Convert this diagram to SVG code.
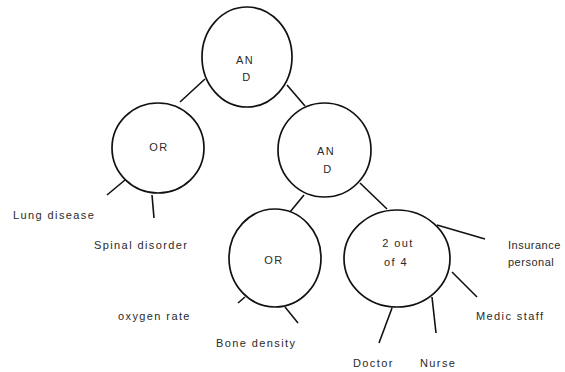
<svg xmlns="http://www.w3.org/2000/svg" width="565" height="372" viewBox="0 0 565 372">
<style>
.n{fill:#fff;stroke:#111;stroke-width:1.7}
.c line{stroke:#111;stroke-width:1.6}
text{font-family:"Liberation Sans",Arial,sans-serif;font-size:11px;letter-spacing:1.4px;fill:#2a2a2a}
.m{text-anchor:middle}
.t{letter-spacing:0.5px}
</style>
<rect width="565" height="372" fill="#fff"/>
<g class="c" id="connectors">
<line x1="180" y1="102" x2="205" y2="79"/>
<line x1="287" y1="85" x2="305" y2="106"/>
<line x1="290" y1="212" x2="304" y2="195"/>
<line x1="360" y1="183" x2="387" y2="209"/>
<line x1="107" y1="195" x2="125" y2="180"/>
<line x1="152" y1="195" x2="154" y2="218"/>
<line x1="238" y1="303" x2="245" y2="297"/>
<line x1="285" y1="307" x2="298" y2="323"/>
<line x1="437" y1="225" x2="485" y2="239"/>
<line x1="452" y1="272" x2="477" y2="297"/>
<line x1="392" y1="308" x2="379" y2="343"/>
<line x1="432" y1="297" x2="436" y2="333"/>
</g>
<g id="and-top">
<ellipse class="n" cx="247" cy="57" rx="45" ry="50"/>
<text class="m" x="245" y="64">AN</text>
<text class="m" x="247" y="81">D</text>
</g>
<g id="or-left">
<ellipse class="n" cx="158" cy="148" rx="46" ry="45"/>
<text class="m" x="159" y="151">OR</text>
</g>
<g id="and-right">
<ellipse class="n" cx="324.5" cy="150" rx="46.5" ry="47"/>
<text class="m" x="326" y="155">AN</text>
<text class="m" x="328" y="173">D</text>
</g>
<g id="or-bottom">
<ellipse class="n" cx="275" cy="258" rx="46" ry="49"/>
<text class="m" x="274" y="264">OR</text>
</g>
<g id="two-of-four">
<ellipse class="n" cx="397" cy="258.5" rx="53" ry="48.5"/>
<text class="m" x="398" y="247">2 out</text>
<text class="m" x="396" y="266">of 4</text>
</g>
<g id="labels">
<text x="13" y="219">Lung disease</text>
<text x="94" y="249">Spinal disorder</text>
<text x="118" y="320">oxygen rate</text>
<text x="216" y="347">Bone density</text>
<text x="353" y="367">Doctor</text>
<text x="420" y="367">Nurse</text>
<text x="476" y="320">Medic staff</text>
<text class="t" x="508" y="249">Insurance</text>
<text class="t" x="508" y="266">personal</text>
</g>
</svg>
